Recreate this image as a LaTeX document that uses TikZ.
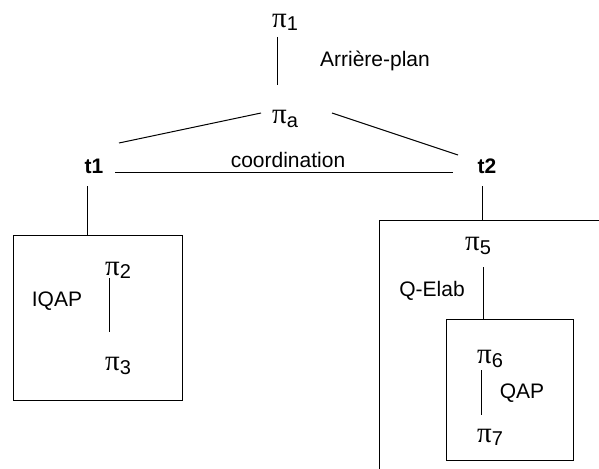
\documentclass[tikz,border=0pt]{standalone}
\usepackage{fontspec}
\setmainfont{Liberation Sans}
\newfontfamily\pifont{Liberation Serif}
\newcommand\pisym[1]{{\fontsize{29}{29}\selectfont\pifont π}\raisebox{-0.3ex}{#1}}
\begin{document}
\begin{tikzpicture}[x=1pt,y=-1pt,
  lbl/.style={inner sep=0pt,font=\fontsize{21}{24}\selectfont},
  pinode/.style={inner sep=0pt,font=\fontsize{20}{24}\selectfont},
  conn/.style={line width=1pt},
  box/.style={line width=1pt}]
\useasboundingbox (0,0) rectangle (599,468);
% nodes
\node[pinode] (p1) at (285,22) {\pisym{1}};
\node[lbl] (ap) at (375,61) {Arrière-plan};
\node[pinode] (pa) at (285,119) {\pisym{a}};
\node[lbl,font=\fontsize{21}{24}\selectfont\bfseries] (t1) at (94,166) {t1};
\node[lbl,font=\fontsize{21}{24}\selectfont\bfseries] (t2) at (487,166) {t2};
\node[lbl] (coord) at (288,160) {coordination};
\node[pinode] (p2) at (118,270) {\pisym{2}};
\node[pinode] (p3) at (118,366) {\pisym{3}};
\node[lbl] (iqap) at (57,301) {IQAP};
\node[pinode] (p5) at (478,246) {\pisym{5}};
\node[lbl] (qelab) at (432,291) {Q-Elab};
\node[pinode] (p6) at (490,359) {\pisym{6}};
\node[pinode] (p7) at (490,437) {\pisym{7}};
\node[lbl] (qap) at (522,393) {QAP};
% connector end points
\coordinate (p1b) at (277,37);
\coordinate (pat) at (277,85);
\coordinate (pal) at (261,113);
\coordinate (t1r) at (119,143);
\coordinate (par) at (332,113);
\coordinate (t2l) at (458,155);
\coordinate (c1) at (115,172);
\coordinate (c2) at (453,172);
\coordinate (t1b) at (87,186);
\coordinate (lbt) at (87,235);
\coordinate (t2b) at (482,186);
\coordinate (rbt) at (482,220);
\coordinate (p2b) at (109,278);
\coordinate (p3t) at (109,332);
\coordinate (p5b) at (483,267);
\coordinate (ibt) at (483,319);
\coordinate (p6b) at (481,370);
\coordinate (p7t) at (481,415);
% connectors
\draw[conn] (p1b) -- (pat);
\draw[conn] (pal) -- (t1r);
\draw[conn] (par) -- (t2l);
\draw[conn] (c1) -- (c2);
\draw[conn] (t1b) -- (lbt);
\draw[conn] (t2b) -- (rbt);
\draw[conn] (p2b) -- (p3t);
\draw[conn] (p5b) -- (ibt);
\draw[conn] (p6b) -- (p7t);
% boxes
\draw[box] (13,235) rectangle (182,400);
\draw[box] (379,470) -- (379,220) -- (601,220);
\draw[box] (446,319) rectangle (573,460);
\end{tikzpicture}
\end{document}
